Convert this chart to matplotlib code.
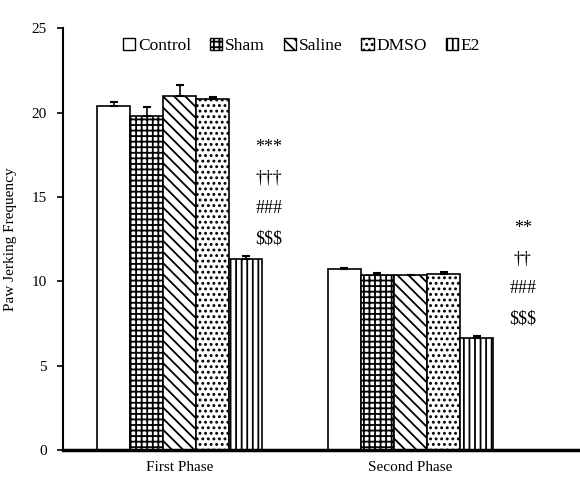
import numpy as np
import matplotlib
matplotlib.use('Agg')
from matplotlib import pyplot as plt
from matplotlib.patches import Patch

plt.rcParams['font.family'] = ['Liberation Serif', 'DejaVu Serif']
plt.rcParams['hatch.linewidth'] = 1.3

# data
phases = ['First Phase', 'Second Phase']
groups = ['Control', 'Sham', 'Saline', 'DMSO', 'E2']
means = {
    'Control': [20.4, 10.7],
    'Sham': [19.8, 10.35],
    'Saline': [21.0, 10.35],
    'DMSO': [20.8, 10.45],
    'E2': [11.3, 6.65],
}
errs = {
    'Control': [0.25, 0.1],
    'Sham': [0.55, 0.15],
    'Saline': [0.65, 0.05],
    'DMSO': [0.12, 0.1],
    'E2': [0.22, 0.1],
}
sig_first = ['***', '\u2020\u2020\u2020', '###', '$$$']
sig_second = ['**', '\u2020\u2020', '###', '$$$']
sig_offset = [0.10, 0.20]
hatches = ['', '+++', '\\\\\\', '...', '|||']

fig = plt.figure(figsize=(5.8, 4.86), dpi=100)
ax = fig.add_axes([0.109, 0.074, 0.891, 0.868])

x = np.arange(len(phases))
w = 0.143
for i, g in enumerate(groups):
    pos = x + (i - 2) * w
    e = np.array(errs[g])
    ax.bar(pos, means[g], w, color='white', edgecolor='black', hatch=hatches[i],
           linewidth=1.2, yerr=[np.zeros_like(e), e], capsize=3,
           error_kw=dict(elinewidth=1.2, capthick=1.5, ecolor='black'))

# significance marks beside E2 bars
for j, marks in enumerate([sig_first, sig_second]):
    xe = x[j] + 2 * w + sig_offset[j]
    ytop = means['E2'][j] + errs['E2'][j]
    n = len(marks)
    for k, m in enumerate(marks):
        yy = ytop + 1.0 + (n - 1 - k) * 1.8
        ax.text(xe, yy, m, ha='center', va='center', fontsize=13)

ax.set_xlim(-0.504, 1.734)
ax.set_ylim(0, 25)
ax.set_yticks([0, 5, 10, 15, 20, 25])
ax.set_xticks(x)
ax.set_xticklabels(phases, fontsize=11)
ax.tick_params(axis='x', length=0, pad=8)
ax.tick_params(axis='y', labelsize=11, direction='out', length=4, width=1.2, pad=8)
ax.set_ylabel('Paw Jerking Frequency', fontsize=11, labelpad=10)
ax.spines['top'].set_visible(False)
ax.spines['right'].set_visible(False)
ax.spines['left'].set_linewidth(1.5)
ax.spines['bottom'].set_linewidth(2.5)

handles = [Patch(facecolor='white', edgecolor='black', hatch=hatches[i], label=g)
           for i, g in enumerate(groups)]
fig.legend(handles=handles, loc='center', bbox_to_anchor=(0.52, 0.905), ncol=5,
           frameon=False, fontsize=12.5, handlelength=0.7, handleheight=0.7,
           handletextpad=0.15, columnspacing=1.1)

plt.savefig('out.png', dpi=100)
